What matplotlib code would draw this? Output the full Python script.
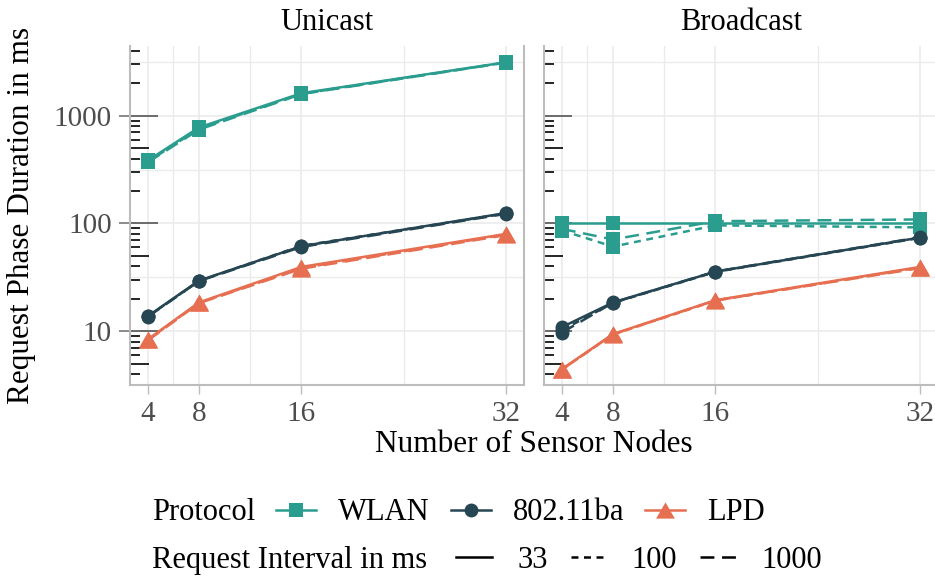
import matplotlib
matplotlib.use("Agg")
import matplotlib.pyplot as plt
import matplotlib.transforms as mtransforms
from matplotlib.lines import Line2D
import numpy as np

plt.rcParams["font.family"] = ["Liberation Serif", "DejaVu Serif"]
plt.rcParams["lines.scale_dashes"] = False

# ---- data ----
NODES = [4, 8, 16, 32]
PROTOCOLS = ["WLAN", "802.11ba", "LPD"]
INTERVALS = ["33", "100", "1000"]

# Unicast, request phase duration in ms
UNI_WLAN_33 = [385, 780, 1620, 3140]
UNI_WLAN_100 = [375, 760, 1600, 3130]
UNI_WLAN_1000 = [370, 745, 1590, 3120]
UNI_BA_33 = [13.8, 29.5, 61.5, 125]
UNI_BA_100 = [13.7, 29.3, 62.0, 124]
UNI_BA_1000 = [13.6, 29.2, 60.5, 123]
UNI_LPD_33 = [8.4, 18.5, 39.5, 80]
UNI_LPD_100 = [8.3, 18.3, 38.5, 79]
UNI_LPD_1000 = [8.2, 18.2, 38.0, 78]

# Broadcast
BC_WLAN_33 = [100, 100, 100, 100]
BC_WLAN_100 = [86, 61, 96, 92]
BC_WLAN_1000 = [89, 71, 105, 109]
BC_BA_33 = [10.9, 18.5, 35.7, 74]
BC_BA_100 = [10.2, 18.3, 35.5, 73.5]
BC_BA_1000 = [9.7, 18.4, 35.8, 74.5]
BC_LPD_33 = [4.45, 9.4, 19.4, 39.5]
BC_LPD_100 = [4.4, 9.3, 19.2, 39.0]
BC_LPD_1000 = [4.4, 9.35, 19.3, 38.5]

UNICAST = {
    "WLAN": [UNI_WLAN_33, UNI_WLAN_100, UNI_WLAN_1000],
    "802.11ba": [UNI_BA_33, UNI_BA_100, UNI_BA_1000],
    "LPD": [UNI_LPD_33, UNI_LPD_100, UNI_LPD_1000],
}
BROADCAST = {
    "WLAN": [BC_WLAN_33, BC_WLAN_100, BC_WLAN_1000],
    "802.11ba": [BC_BA_33, BC_BA_100, BC_BA_1000],
    "LPD": [BC_LPD_33, BC_LPD_100, BC_LPD_1000],
}

# ---- style ----
COLORS = {"WLAN": "#2A9D8F", "802.11ba": "#264653", "LPD": "#E76F51"}
TRI = [(-1, -0.866), (1, -0.866), (0, 0.866)]
MARKERS = {"WLAN": ("s", 10.5), "802.11ba": ("o", 10), "LPD": (TRI, 13.5)}
LINESTYLES = {"33": "-", "100": (0, (5, 4)), "1000": (0, (10, 5.5))}

W, H = 935, 576
GRID = "#EBEBEB"
AXCOL = "#BDBDBD"
TICKTXT = "#4D4D4D"
FS = 21
LW = 1.8


def px(x0, y0, w, h):
    """pixel box (top-left origin) -> figure fraction rect"""
    return [x0 / W, 1 - (y0 + h) / H, w / W, h / H]


def style_panel(ax, show_ylabels):
    ax.set_yscale("log")
    ax.set_xlim(2.6, 33.4)
    ax.set_ylim(10 ** 0.509, 10 ** 3.648)

    ax.set_xticks(NODES)
    ax.set_xticks([6, 12, 24], minor=True)
    ax.set_yticks([10, 100, 1000])
    ax.set_yticks([10 ** 0.5, 10 ** 1.5, 10 ** 2.5, 10 ** 3.5], minor=True)
    ax.set_xticklabels([str(n) for n in NODES])
    ax.grid(True, which="major", color=GRID, lw=1.2, zorder=0)
    ax.grid(True, which="minor", color=GRID, lw=1.0, zorder=0)
    ax.set_axisbelow(True)

    ax.tick_params(axis="x", which="major", length=6.5, width=1.0, color=AXCOL,
                   labelsize=FS, labelcolor=TICKTXT, pad=5)
    ax.tick_params(axis="both", which="minor", length=0)
    if show_ylabels:
        ax.set_yticklabels(["10", "100", "1000"])
        ax.tick_params(axis="y", which="major", length=8, width=1.2, color="#777777",
                       labelsize=FS, labelcolor=TICKTXT, pad=5)
    else:
        ax.tick_params(axis="y", which="major", length=0, labelleft=False)

    for side in ["left", "bottom", "right"]:
        ax.spines[side].set_color(AXCOL)
        ax.spines[side].set_linewidth(1.5)
    ax.spines["top"].set_visible(False)

    # log ticks along the left edge (like annotation_logticks)
    trans = mtransforms.blended_transform_factory(ax.transAxes, ax.transData)
    lo, hi = ax.get_ylim()
    for k in range(0, 4):
        for d in range(1, 10):
            v = d * 10 ** k
            if v < lo or v > hi:
                continue
            if d == 1:
                ln, col = 28 / 394, "#555555"
            elif d == 5:
                ln, col = 19 / 394, "black"
            else:
                ln, col = 10 / 394, "black"
            ax.plot([0, ln], [v, v], transform=trans, color=col, lw=1.2,
                    solid_capstyle="butt", zorder=1, clip_on=False)


def draw_panel(ax, data):
    for proto in PROTOCOLS:
        mk, ms = MARKERS[proto]
        for interval, vals in zip(INTERVALS, data[proto]):
            ax.plot(NODES, vals, color=COLORS[proto], linestyle=LINESTYLES[interval],
                    lw=LW, marker=mk, markersize=ms, markeredgewidth=0, zorder=3)


def draw_legend(fig):
    renderer = fig.canvas.get_renderer()
    gap, keyw = 22, 40

    def put_text(x, y, s):
        t = fig.text(x / W, 1 - y / H, s, fontsize=22, ha="left", va="baseline")
        bb = t.get_window_extent(renderer=renderer)
        return x + bb.width

    # row 1: protocol
    y_base, y_mid = 520, 509.5
    x = put_text(152, y_base, "Protocol")
    for proto in PROTOCOLS:
        x += gap - 1
        mk, ms = MARKERS[proto]
        fig.add_artist(Line2D([x / W, (x + keyw) / W], [1 - y_mid / H] * 2,
                              transform=fig.transFigure, color=COLORS[proto], lw=LW))
        fig.add_artist(Line2D([(x + keyw / 2) / W], [1 - y_mid / H],
                              transform=fig.transFigure, color=COLORS[proto],
                              marker=mk, markersize=ms, markeredgewidth=0, linestyle=""))
        x += keyw + gap
        x = put_text(x, y_base, proto)

    # row 2: linetype
    y_base, y_mid = 568, 557
    x = put_text(152, y_base, "Request Interval in ms")
    x += 6
    for interval in INTERVALS:
        x += gap
        fig.add_artist(Line2D([(x + 1) / W, (x + keyw - 3) / W], [1 - y_mid / H] * 2,
                              transform=fig.transFigure, color="black", lw=LW,
                              linestyle=LINESTYLES[interval]))
        x += keyw + gap
        x = put_text(x, y_base, interval)


def main():
    fig = plt.figure(figsize=(W / 100, H / 100), dpi=100)
    ax1 = fig.add_axes(px(130, 46, 394, 339))
    ax2 = fig.add_axes(px(544, 46, 394, 339))

    style_panel(ax1, True)
    style_panel(ax2, False)
    draw_panel(ax1, UNICAST)
    draw_panel(ax2, BROADCAST)

    # facet titles
    fig.text((130 + 197) / W, 1 - 22 / H, "Unicast", fontsize=22, ha="center", va="center")
    fig.text((544 + 197) / W, 1 - 22 / H, "Broadcast", fontsize=22, ha="center", va="center")

    # axis titles
    fig.text(534 / W, 1 - 444 / H, "Number of Sensor Nodes", fontsize=22.5,
             ha="center", va="center")
    fig.text(22 / W, 1 - 215 / H, "Request Phase Duration in ms", fontsize=22.5,
             ha="center", va="center", rotation=90)

    draw_legend(fig)

    fig.savefig("out.png", dpi=100)
    plt.close(fig)


if __name__ == "__main__":
    main()
